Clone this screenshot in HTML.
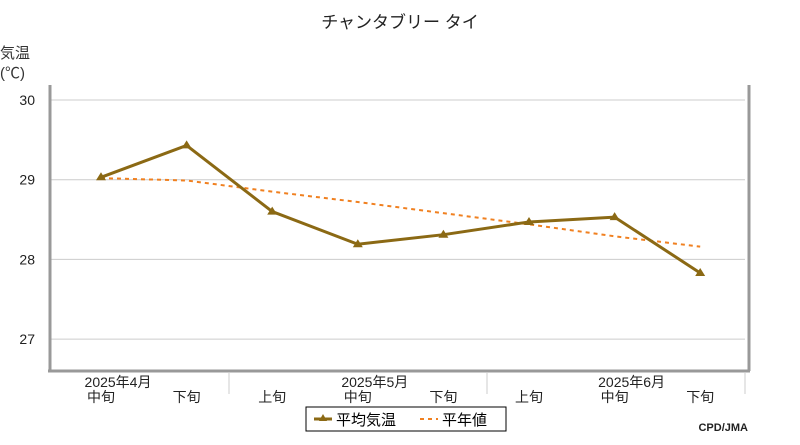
<!DOCTYPE html>
<html><head><meta charset="utf-8"><style>
body{margin:0;background:#fff;}
svg text{font-family:"Liberation Sans","Noto Sans CJK JP",sans-serif;}
</style></head><body>
<svg width="800" height="440" xmlns="http://www.w3.org/2000/svg">
<text x="400" y="28" font-size="17" text-anchor="middle" fill="#222">チャンタブリー タイ</text>
<text x="0" y="58" font-size="15" fill="#333">気温</text>
<text x="0" y="78" font-size="15" fill="#333">(℃)</text>
<g id="grid"></g>
<line x1="50" y1="85" x2="50" y2="371" stroke="#999" stroke-width="3"/>
<line x1="48" y1="371" x2="750" y2="371" stroke="#999" stroke-width="3"/>
<line x1="749" y1="85" x2="749" y2="371" stroke="#999" stroke-width="3"/>
<g id="xaxis"></g>
<g id="series"></g>
<g>
<rect x="306" y="407" width="200" height="24" fill="#fff" stroke="#000"/>
<line x1="314" y1="419" x2="332" y2="419" stroke="#8B6914" stroke-width="3"/>
<path d="M323,414 L327,421 L319,421 Z" fill="#8B6914"/>
<text x="336" y="425" font-size="15" fill="#000">平均気温</text>
<line x1="420" y1="419" x2="438" y2="419" stroke="#f08020" stroke-width="2" stroke-dasharray="4,4"/>
<text x="442" y="425" font-size="15" fill="#000">平年値</text>
</g>
<text x="748" y="431" font-size="11" font-weight="bold" text-anchor="end" fill="#222">CPD/JMA</text>
</svg>
<script>
const yTicks=[27,28,29,30];
const subLabels=["中旬","下旬","上旬","中旬","下旬","上旬","中旬","下旬"];
const monthLabels=["2025年4月","2025年5月","2025年6月"];
const monthIdx=[0,3,6];
const avgTemp=[29.03,29.43,28.60,28.19,28.31,28.47,28.53,27.83];
const normalTemp=[29.02,28.99,28.85,28.72,28.58,28.44,28.29,28.16];
const NS="http://www.w3.org/2000/svg";
const y=v=>100+(30-v)*79.7;
const x=i=>101+i*85.6;
function mk(tag,attrs,parent){const e=document.createElementNS(NS,tag);for(const k in attrs)e.setAttribute(k,attrs[k]);parent.appendChild(e);return e;}
const grid=document.getElementById('grid');
yTicks.forEach(t=>{
 const l=mk('line',{x1:50,x2:745,y1:y(t),y2:y(t),stroke:'#ccc','stroke-width':1},grid);
 
 
 const tx=mk('text',{x:35,y:y(t)+5,'font-size':14,'text-anchor':'end',fill:'#222'},grid);
 tx.textContent=t;
 
 
});
const xa=document.getElementById('xaxis');
[229,487,745].forEach(px=>{
 const l=mk('line',{x1:px,x2:px,y1:372,y2:394,stroke:'#ccc'},xa);
 
 
});
subLabels.forEach((s,i)=>{
 const t=mk('text',{x:x(i),y:402,'font-size':14,'text-anchor':'middle',fill:'#222'},xa);
 t.textContent=s;
 
 
});
monthLabels.forEach((m,j)=>{
 const t=mk('text',{x:x(monthIdx[j])+17,y:387,'font-size':14,'text-anchor':'middle',fill:'#222'},xa);
 t.textContent=m;
 
 
});
const se=document.getElementById('series');
const np=mk('polyline',{points:normalTemp.map((v,i)=>x(i)+','+y(v)).join(' '),fill:'none',stroke:'#f08020','stroke-width':2,'stroke-dasharray':'4,4'},se);


const ap=mk('polyline',{points:avgTemp.map((v,i)=>x(i)+','+y(v)).join(' '),fill:'none',stroke:'#8B6914','stroke-width':3},se);


avgTemp.forEach((v,i)=>{
 const cx=x(i),cy=y(v);
 const p=mk('path',{d:`M${cx},${cy-5} L${cx+5},${cy+3} L${cx-5},${cy+3} Z`,fill:'#8B6914'},se);
 
 
});
</script>
</body></html>
